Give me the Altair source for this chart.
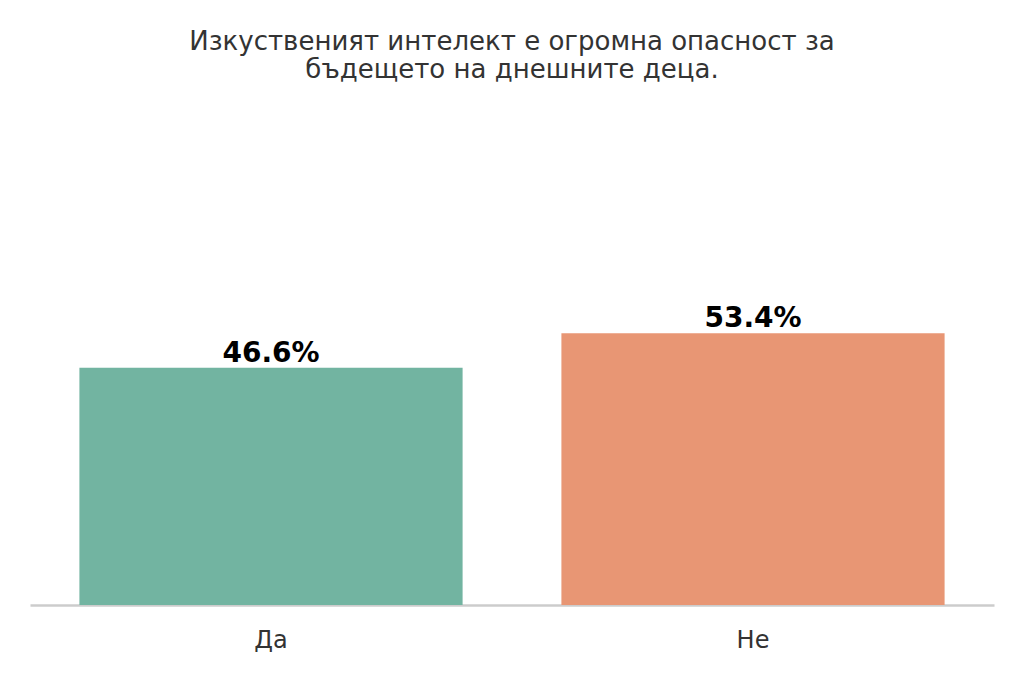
import altair as alt
import pandas as pd

categories = ["Да", "Не"]
values = [46.6, 53.4]
colors = ["#72b4a1", "#e89674"]
labels = ["46.6%", "53.4%"]

df = pd.DataFrame({"cat": categories, "val": values, "lab": labels})

x = alt.X("cat:N", sort=categories,
          scale=alt.Scale(paddingInner=0.205, paddingOuter=0.1025),
          axis=alt.Axis(title=None, labelAngle=0, labelFontSize=24, labelColor="#333333",
                        labelFont="DejaVu Sans", labelPadding=23, ticks=False,
                        domainColor="#cccccc", domainWidth=2.5))
y = alt.Y("val:Q", scale=alt.Scale(domain=[0, 100]), axis=None)

bars = alt.Chart(df).mark_bar().encode(
    x=x, y=y,
    color=alt.Color("cat:N", scale=alt.Scale(domain=categories, range=colors), legend=None),
)
text = alt.Chart(df).mark_text(baseline="alphabetic", dy=-6, fontSize=28, fontWeight="bold",
                               font="DejaVu Sans", color="black").encode(x=x, y=y, text="lab:N")

chart = (bars + text).properties(
    width=964, height=509,
    title=alt.TitleParams(
        ["Изкуственият интелект е огромна опасност за", "бъдещето на днешните деца."],
        fontSize=26, font="DejaVu Sans", fontWeight="normal", color="#333333",
        anchor="middle", offset=13, lineHeight=28,
    ),
    autosize=alt.AutoSizeParams(type="none"),
    padding={"left": 22, "top": 88, "right": 10, "bottom": 50},
).configure_view(stroke=None)

chart.save("out.html", embed_options={"renderer": "svg", "actions": False})
